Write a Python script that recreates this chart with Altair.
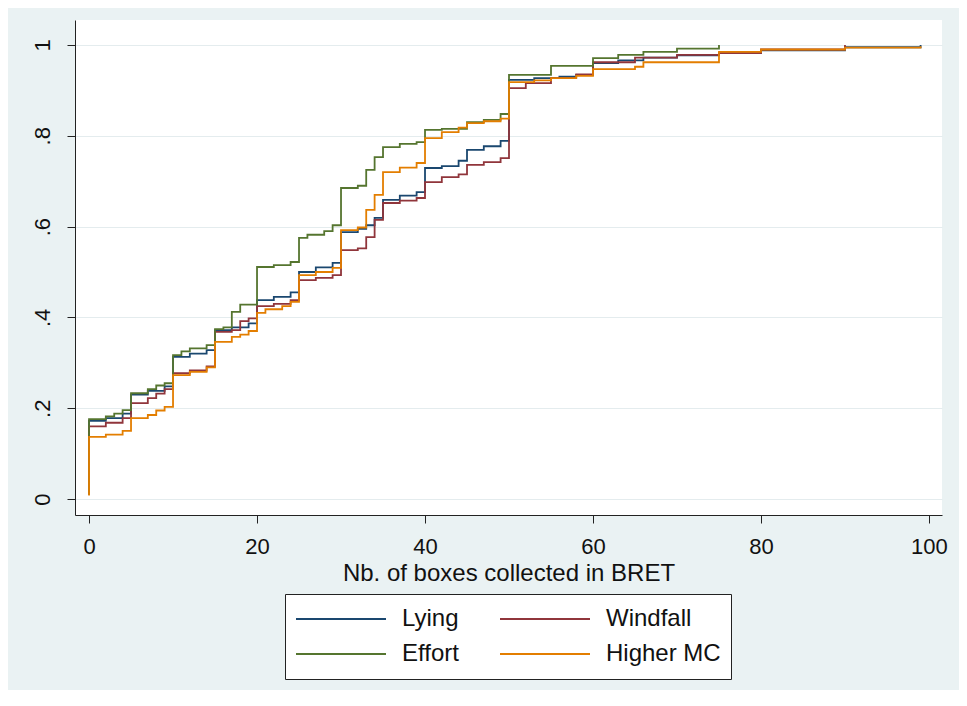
import altair as alt
import pandas as pd

# ---- data ----
series_names = ["Lying", "Windfall", "Effort", "Higher MC"]
series_colors = ["#1a476f", "#90353b", "#55752f", "#e37e00"]
# legend is laid out column by column, so list it so that rows read Lying | Windfall, Effort | Higher MC
legend_order = ["Lying", "Effort", "Windfall", "Higher MC"]
legend_colors = ["#1a476f", "#55752f", "#90353b", "#e37e00"]

lying_x = [0, 0, 2, 4, 5, 7, 9, 10, 12, 14, 15, 17, 19, 20, 22, 24, 25, 27, 29, 30, 32, 33, 34, 35, 37, 39,
           40, 42, 44, 45, 47, 49, 50, 53, 56, 58, 60, 63, 66, 70, 75, 80, 90, 99]
lying_y = [0.01, 0.172, 0.178, 0.188, 0.23, 0.238, 0.248, 0.313, 0.32, 0.328, 0.372, 0.378, 0.387, 0.438,
           0.445, 0.455, 0.5, 0.51, 0.52, 0.588, 0.595, 0.603, 0.619, 0.659, 0.668, 0.676,
           0.729, 0.733, 0.745, 0.769, 0.777, 0.789, 0.923, 0.927, 0.93, 0.934, 0.96, 0.966, 0.972,
           0.977, 0.982, 0.988, 0.995, 1.0]

windfall_x = [0, 0, 2, 4, 5, 7, 8, 9, 10, 12, 14, 15, 17, 18, 19, 20, 22, 24, 25, 27, 29, 30, 32, 33, 34, 35,
              37, 39, 40, 42, 44, 45, 47, 49, 50, 52, 55, 58, 60, 65, 70, 75, 80, 90]
windfall_y = [0.01, 0.16, 0.168, 0.178, 0.211, 0.222, 0.232, 0.242, 0.277, 0.283, 0.292, 0.368, 0.372,
              0.392, 0.398, 0.425, 0.43, 0.438, 0.482, 0.487, 0.493, 0.548, 0.552, 0.577, 0.615, 0.652,
              0.657, 0.663, 0.698, 0.709, 0.715, 0.736, 0.742, 0.751, 0.905, 0.916, 0.927, 0.935, 0.962,
              0.972, 0.978, 0.982, 0.99, 1.0]

effort_x = [0, 0, 2, 3, 4, 5, 7, 8, 9, 10, 11, 12, 14, 15, 16, 17, 18, 20, 22, 24, 25, 26, 28, 29, 30, 32,
            33, 34, 35, 37, 39, 40, 42, 45, 47, 49, 50, 55, 60, 63, 66, 70, 75]
effort_y = [0.01, 0.176, 0.182, 0.188, 0.196, 0.233, 0.242, 0.25, 0.255, 0.317, 0.325, 0.332, 0.339,
            0.374, 0.378, 0.412, 0.428, 0.511, 0.515, 0.522, 0.575, 0.582, 0.59, 0.603, 0.685, 0.69,
            0.725, 0.753, 0.775, 0.782, 0.786, 0.813, 0.815, 0.83, 0.835, 0.848, 0.934, 0.954, 0.971,
            0.978, 0.985, 0.992, 1.0]

highmc_x = [0, 0, 2, 4, 5, 7, 8, 9, 10, 12, 14, 15, 17, 18, 19, 20, 21, 23, 24, 25, 27, 29, 30, 32, 33, 34,
            35, 37, 39, 40, 42, 44, 45, 47, 49, 50, 53, 55, 58, 60, 65, 66, 75, 80, 90, 99]
highmc_y = [0.008, 0.137, 0.142, 0.15, 0.178, 0.185, 0.195, 0.203, 0.273, 0.28, 0.29, 0.346, 0.357,
            0.362, 0.37, 0.41, 0.418, 0.425, 0.434, 0.493, 0.5, 0.509, 0.592, 0.598, 0.637, 0.67,
            0.72, 0.73, 0.74, 0.795, 0.808, 0.818, 0.828, 0.832, 0.838, 0.918, 0.922, 0.927, 0.932,
            0.947, 0.952, 0.962, 0.985, 0.99, 0.994, 0.997]

x_ticks = [0, 20, 40, 60, 80, 100]
y_ticks = [0, 0.2, 0.4, 0.6, 0.8, 1.0]

# ---- build table (Higher MC last so it is drawn on top) ----
rows = []
for name, xs, ys in [("Lying", lying_x, lying_y), ("Windfall", windfall_x, windfall_y),
                     ("Effort", effort_x, effort_y), ("Higher MC", highmc_x, highmc_y)]:
    for i, (xv, yv) in enumerate(zip(xs, ys)):
        rows.append({"series": name, "x": xv, "y": yv, "i": i})
df = pd.DataFrame(rows)

FONT = "Liberation Sans"

chart = alt.Chart(df).mark_line(interpolate="step-after", strokeWidth=1.8).encode(
    x=alt.X("x:Q",
            scale=alt.Scale(domain=[-1.67, 101.55], nice=False, zero=False),
            axis=alt.Axis(values=x_ticks, title="Nb. of boxes collected in BRET", grid=False,
                          format="d", labelFontSize=22, titleFontSize=24, labelPadding=13,
                          titlePadding=4, tickSize=8, tickColor="#222", domainColor="#222",
                          labelColor="#111", titleColor="#111", labelFont=FONT, titleFont=FONT,
                          titleFontWeight="normal")),
    y=alt.Y("y:Q",
            scale=alt.Scale(domain=[-0.0352, 1.055], nice=False, zero=False),
            axis=alt.Axis(values=y_ticks, title=None, grid=True, gridColor="#E4ECEE", gridWidth=1.2,
                          labelExpr="datum.value == 0 ? '0' : datum.value == 1 ? '1' : '.' + round(datum.value * 10)",
                          labelAngle=270, labelAlign="center", labelBaseline="bottom",
                          labelFontSize=22, labelPadding=13, tickSize=8, tickColor="#222",
                          domainColor="#222", labelColor="#111", labelFont=FONT)),
    color=alt.Color("series:N", sort=legend_order,
                    scale=alt.Scale(domain=legend_order, range=legend_colors),
                    legend=alt.Legend(orient="none", legendX=210, legendY=574, columns=2,
                                      title=None, symbolType="stroke", symbolSize=8100,
                                      symbolStrokeWidth=2, clipHeight=30, rowPadding=5,
                                      columnPadding=40, labelFontSize=24, labelFont=FONT,
                                      labelColor="#111", labelOffset=15, padding=10,
                                      strokeColor="#222", fillColor="white", labelLimit=300)),
    order=alt.Order("i:Q"),
).properties(
    width=867, height=495,
    autosize=alt.AutoSizeParams(type="none"),
    padding={"left": 67, "top": 12, "right": 17, "bottom": 175},
    background="#EAF2F3",
).configure_view(fill="white", strokeWidth=0)

chart.save("out.html", embed_options={"renderer": "svg", "actions": False})
